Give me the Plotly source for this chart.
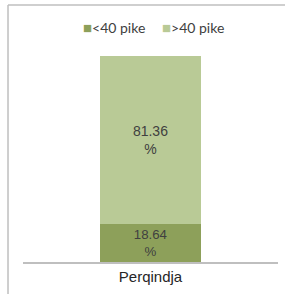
import plotly.graph_objects as go

categories = ["Perqindja"]
series_names = ["<40 pike", ">40 pike"]
below_40 = [18.64]
above_40 = [81.36]
colors = ["#8DA05A", "#B9CA96"]

fig = go.Figure()
for name, vals, col in zip(series_names, [below_40, above_40], colors):
    fig.add_trace(go.Bar(
        x=categories, y=vals, name=name,
        marker=dict(color=col, line=dict(width=0)),
        text=[f"{v:.2f}<br>%" for v in vals],
        textposition="inside", insidetextanchor="middle",
        textfont=dict(family="Liberation Sans, Arial", size=14, color="#404040"),
        hoverinfo="skip", showlegend=False,
    ))

# legend drawn as annotations built from series names and colours
legend_x_px = [81, 160]
annotations = []
for name, col, px in zip(series_names, colors, legend_x_px):
    annotations.append(dict(
        xref="paper", yref="paper", x=(px - 23) / 255, y=1 + (56 - 27) / 206,
        xanchor="left", yanchor="middle", showarrow=False,
        text=f"<span style='color:{col};font-size:15px'>■</span>{name}",
        font=dict(family="Lato, sans-serif", size=14, color="#404040"),
    ))

fig.update_layout(
    width=285, height=294,
    margin=dict(l=23, r=7, t=56, b=32, autoexpand=False),
    barmode="stack", bargap=0.604,
    paper_bgcolor="white", plot_bgcolor="white",
    showlegend=False,
    annotations=annotations,
    xaxis=dict(showline=True, linecolor="#BFBFBF", linewidth=1.5, ticks="",
               tickfont=dict(family="Liberation Sans, Arial", size=15, color="#262626"),
               showgrid=False, zeroline=False, automargin=False, fixedrange=True),
    yaxis=dict(range=[0, 100], visible=False, showgrid=False, zeroline=False, fixedrange=True),
    shapes=[
        dict(type="line", xref="paper", yref="paper", x0=-0.0588, x1=-0.0588, y0=1.2476, y1=-0.3,
             line=dict(color="#BFBFBF", width=1.5)),
        dict(type="line", xref="paper", yref="paper", x0=-0.0588, x1=1.2, y0=1.2476, y1=1.2476,
             line=dict(color="#BFBFBF", width=1.5)),
    ],
)

fig.write_html("out.html", config={"displayModeBar": False, "staticPlot": True},
               post_script="document.body.style.margin='0';")
